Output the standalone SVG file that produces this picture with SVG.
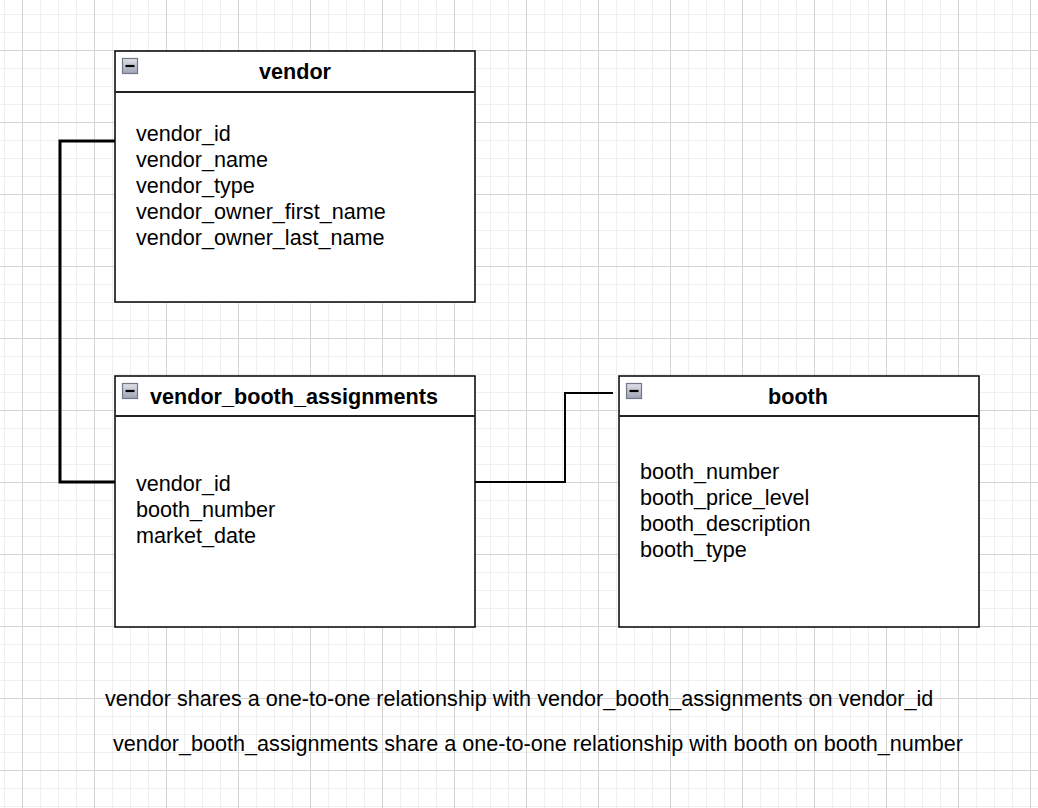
<svg xmlns="http://www.w3.org/2000/svg" width="1038" height="808" viewBox="0 0 1038 808">
  <defs>
    <pattern id="minorGrid" width="18" height="18" patternUnits="userSpaceOnUse" x="4" y="14">
      <path d="M0.5 0 V18 M0 0.5 H18" fill="none" stroke="#efefef" stroke-width="1"/>
    </pattern>
    <pattern id="majorGrid" width="72" height="72" patternUnits="userSpaceOnUse" x="22" y="50">
      <path d="M0.5 0 V72 M0 0.5 H72" fill="none" stroke="#d4d4d4" stroke-width="1"/>
    </pattern>
    <linearGradient id="iconGrad" x1="0" y1="0" x2="0" y2="1">
      <stop offset="0" stop-color="#dfe1ea"/>
      <stop offset="1" stop-color="#9ea3b2"/>
    </linearGradient>
    <g id="collapseIcon">
      <rect x="0.5" y="0.5" width="15" height="15" fill="url(#iconGrad)" stroke="#737888" stroke-width="1.2"/>
      <path d="M3.5 8 H12.5" stroke="#000" stroke-width="2.2"/>
    </g>
  </defs>
  <style>
    .tbl { fill: #ffffff; stroke: #000000; stroke-width: 1.5; }
    .hdrline { stroke: #222222; stroke-width: 1.8; }
    .title { font-family: "Liberation Sans", Arial, Helvetica, sans-serif; font-size: 21.6px; font-weight: bold; fill: #000; text-anchor: middle; }
    .field { font-family: "Liberation Sans", Arial, Helvetica, sans-serif; font-size: 21.6px; fill: #000; }
    .note { font-family: "Liberation Sans", Arial, Helvetica, sans-serif; font-size: 21.6px; fill: #000; }
    .conn { fill: none; stroke: #000; stroke-linejoin: miter; }
  </style>

  <rect x="0" y="0" width="1038" height="808" fill="#ffffff"/>
  <rect x="0" y="0" width="1038" height="808" fill="url(#minorGrid)"/>
  <rect x="0" y="0" width="1038" height="808" fill="url(#majorGrid)"/>

  <g id="connectors">
    <path class="conn" d="M115 141 H60 V482 H115" stroke-width="3"/>
    <path class="conn" d="M475 482 H565 V393 H613" stroke-width="2"/>
  </g>

  <g id="vendor">
    <rect class="tbl" x="115" y="51" width="360" height="251"/>
    <line class="hdrline" x1="115" y1="92" x2="475" y2="92"/>
    <use href="#collapseIcon" x="122" y="58"/>
    <text class="title" x="295" y="79">vendor</text>
    <text class="field" x="136" y="141">vendor_id</text>
    <text class="field" x="136" y="167">vendor_name</text>
    <text class="field" x="136" y="193">vendor_type</text>
    <text class="field" x="136" y="219">vendor_owner_first_name</text>
    <text class="field" x="136" y="245">vendor_owner_last_name</text>
  </g>

  <g id="vendor_booth_assignments">
    <rect class="tbl" x="115" y="376" width="360" height="251"/>
    <line class="hdrline" x1="115" y1="416" x2="475" y2="416"/>
    <use href="#collapseIcon" x="122" y="383"/>
    <text class="title" x="294" y="404">vendor_booth_assignments</text>
    <text class="field" x="136" y="491">vendor_id</text>
    <text class="field" x="136" y="517">booth_number</text>
    <text class="field" x="136" y="543">market_date</text>
  </g>

  <g id="booth">
    <rect class="tbl" x="619" y="376" width="360" height="251"/>
    <line class="hdrline" x1="619" y1="416" x2="979" y2="416"/>
    <use href="#collapseIcon" x="626" y="383"/>
    <text class="title" x="798" y="404">booth</text>
    <text class="field" x="640" y="479">booth_number</text>
    <text class="field" x="640" y="505">booth_price_level</text>
    <text class="field" x="640" y="531">booth_description</text>
    <text class="field" x="640" y="557">booth_type</text>
  </g>

  <g id="notes">
    <text class="note" x="105" y="706">vendor shares a one-to-one relationship with vendor_booth_assignments on vendor_id</text>
    <text class="note" x="113" y="751">vendor_booth_assignments share a one-to-one relationship with booth on booth_number</text>
  </g>
</svg>
